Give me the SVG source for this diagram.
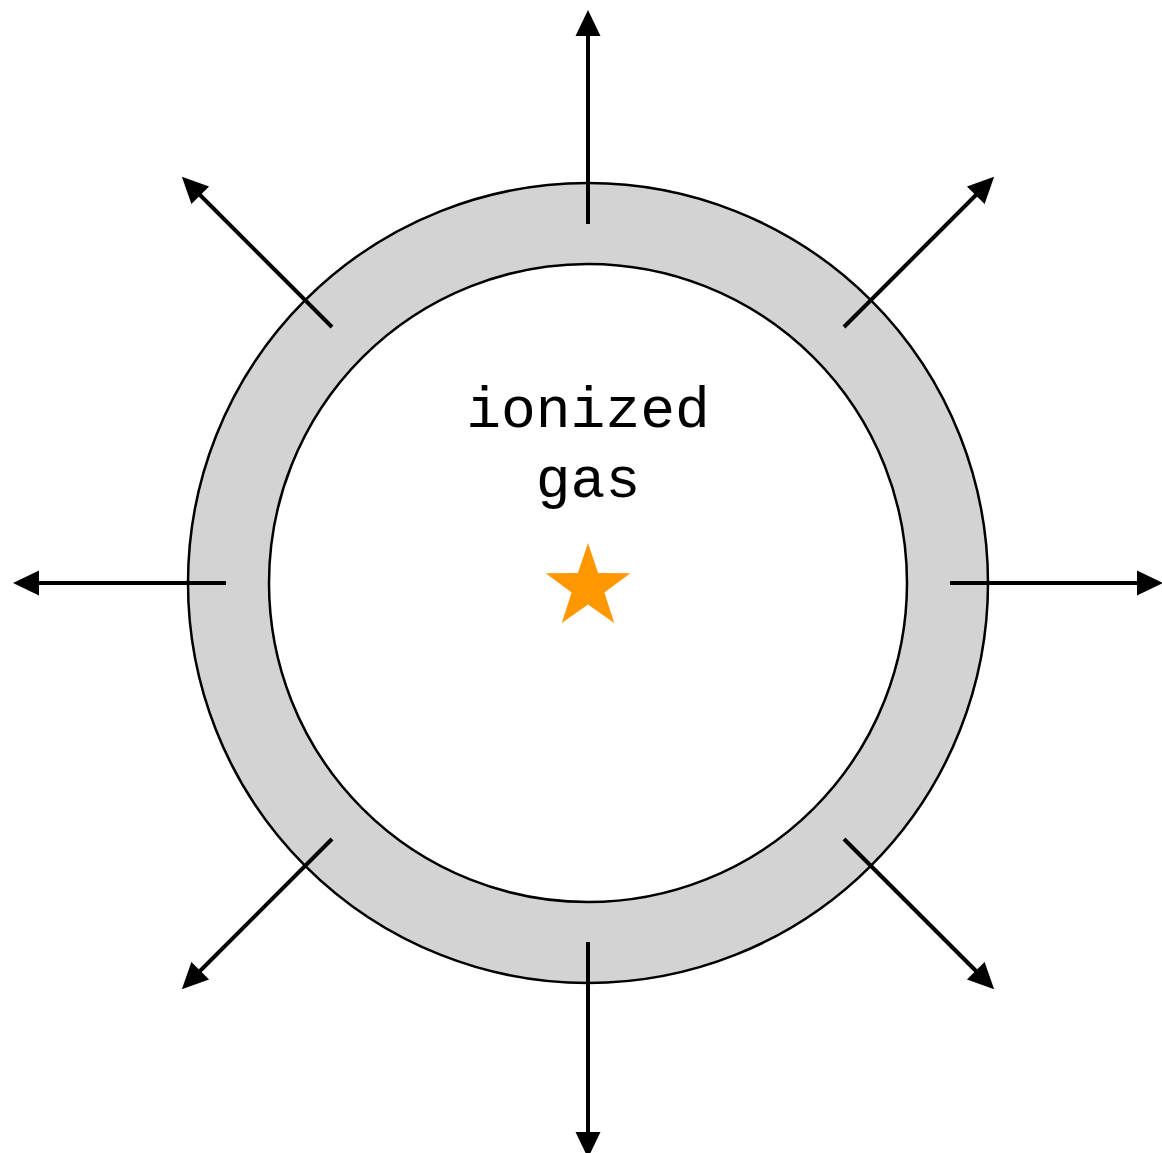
<svg xmlns="http://www.w3.org/2000/svg" width="1162" height="1153" viewBox="0 0 1162 1153">
<style>
.ring{fill:#d3d3d3;stroke:#000;stroke-width:2.5}
.inner{fill:#fff;stroke:#000;stroke-width:2.5}
.arr{stroke:#000;stroke-width:4;fill:none;marker-end:url(#ah)}
.lbl{font-family:"Liberation Mono","Courier New",monospace;font-size:58px;fill:#000;text-anchor:middle}
</style>
<defs>
<marker id="ah" markerUnits="userSpaceOnUse" markerWidth="27" markerHeight="26" refX="6" refY="12.5" orient="auto" overflow="visible">
<path d="M0,0 L26,12.5 L0,25 Z" fill="#000"/>
</marker>
</defs>
<rect width="1162" height="1153" fill="#fff"/>
<g id="shell">
<circle class="ring" cx="588" cy="583" r="400"/>
<circle class="inner" cx="588" cy="583" r="319"/>
</g>
<g id="connectors">
<line class="arr" x1="588" y1="224" x2="588" y2="30"/>
<line class="arr" x1="588" y1="942" x2="588" y2="1138"/>
<line class="arr" x1="226" y1="583" x2="33" y2="583"/>
<line class="arr" x1="950" y1="583" x2="1143" y2="583"/>
<line class="arr" x1="332" y1="327" x2="196" y2="191"/>
<line class="arr" x1="844" y1="327" x2="980" y2="191"/>
<line class="arr" x1="332" y1="839" x2="196" y2="975"/>
<line class="arr" x1="844" y1="839" x2="980" y2="975"/>
</g>
<g id="label">
<text class="lbl" x="588" y="427">ionized</text>
<text class="lbl" x="588" y="497">gas</text>
</g>
<g id="star">
<polygon fill="#ff9800" points="588,543 598.1,573.1 630.3,573.3 604.4,592.4 614.2,623 588,604.5 561.8,623 571.6,592.4 545.7,573.3 577.9,573.1"/>
</g>
</svg>
